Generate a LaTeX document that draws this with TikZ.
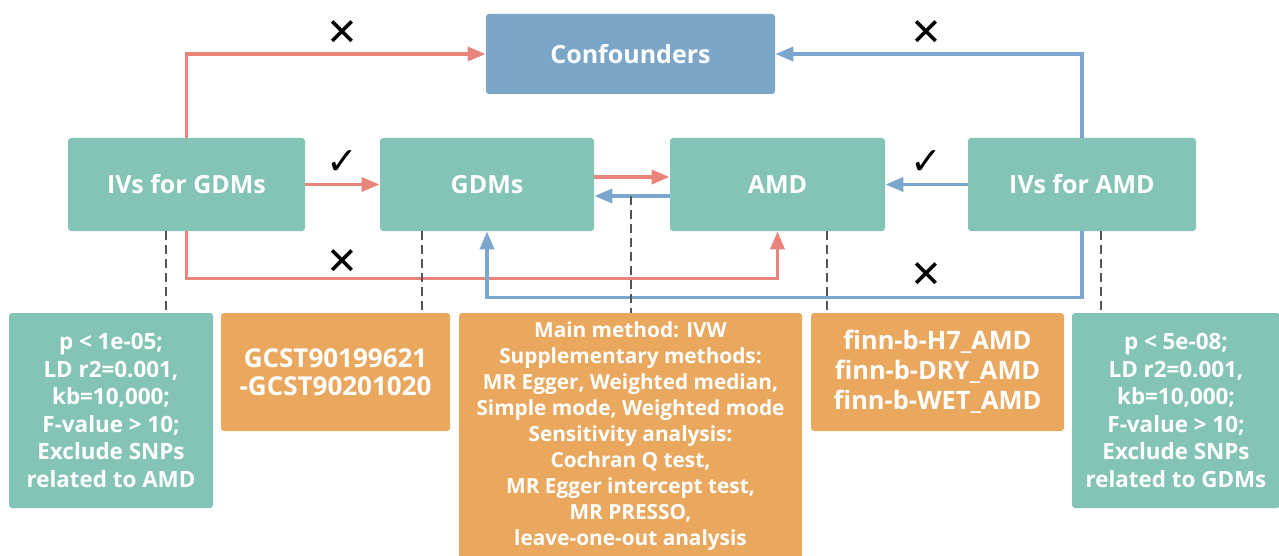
\documentclass[tikz,border=0pt]{standalone}
\usepackage{fontspec}
\setmainfont{Open Sans}
\newfontfamily\marksfont{DejaVu Sans}
\usetikzlibrary{arrows.meta,calc}

\definecolor{tealbox}{RGB}{132,196,183}
\definecolor{bluebox}{RGB}{123,166,200}
\definecolor{orangebox}{RGB}{233,168,94}
\definecolor{redline}{RGB}{232,132,122}
\definecolor{blueline}{RGB}{123,166,206}
\definecolor{dashgray}{RGB}{85,85,85}

\tikzset{
  box/.style={rounded corners=1.5pt, inner sep=0pt, align=center, text=white},
  mainbox/.style={box, fill=tealbox, minimum height=46.5pt, font=\fontsize{12.5}{14}\selectfont\bfseries},
  critbox/.style={box, fill=tealbox, minimum width=102pt, minimum height=97.5pt, font=\fontsize{11.2}{13.75}\selectfont\bfseries},
  databox/.style={box, fill=orangebox, minimum height=59pt},
  redarrow/.style={draw=redline, line width=1.75pt, -{Triangle[length=9pt,width=7pt]}},
  bluearrow/.style={draw=blueline, line width=1.75pt, -{Triangle[length=9pt,width=7pt]}},
  dline/.style={draw=dashgray, line width=1pt, dash pattern=on 4.5pt off 2.5pt},
  signnode/.style={font=\marksfont\fontsize{19}{19}\selectfont, inner sep=0pt}
}

\begin{document}
\begin{tikzpicture}[x=0.5pt,y=-0.5pt]
  \fill[white] (0,0) rectangle (1279,556);
  \useasboundingbox (0,0) rectangle (1279,556);

  \node (conf) at (630.5,54) [box, fill=bluebox, minimum width=144.5pt, minimum height=40pt,
    font=\fontsize{12.5}{14}\selectfont\bfseries] {Confounders};
  \node (ivg) at (186.5,184.5) [mainbox, minimum width=118.5pt] {IVs for GDMs};
  \node (gdm) at (487,184.5) [mainbox, minimum width=107pt] {GDMs};
  \node (amd) at (777.5,184.5) [mainbox, minimum width=107.5pt] {AMD};
  \node (iva) at (1082,184.5) [mainbox, minimum width=114pt] {IVs for AMD};

  \node (crit1) at (111,410.5) [critbox] {p < 1e-05;\\LD r2=0.001,\\kb=10,000;\\F-value > 10;\\Exclude SNPs\\related to AMD};
  \node (gwas) at (335.5,372) [databox, minimum width=114.5pt,
    font=\fontsize{13}{14}\selectfont\bfseries] {GCST90199621\\-GCST90201020};
  \node (meth) at (630.5,436.5) [box, fill=orangebox, minimum width=171.5pt, minimum height=123.5pt,
    font=\fontsize{10.4}{13}\selectfont\bfseries] {Main method: IVW\\Supplementary methods:\\MR Egger, Weighted median,\\Simple mode, Weighted mode\\Sensitivity analysis:\\Cochran Q test,\\MR Egger intercept test,\\MR PRESSO,\\leave-one-out analysis};
  \node (finn) at (937.5,372) [databox, minimum width=126.5pt,
    font=\fontsize{12.7}{15}\selectfont\bfseries] {finn-b-H7\_AMD\\finn-b-DRY\_AMD\\finn-b-WET\_AMD};
  \node (crit2) at (1176,410.5) [critbox, minimum width=104pt] {p < 5e-08;\\LD r2=0.001,\\kb=10,000;\\F-value > 10;\\Exclude SNPs\\related to GDMs};

  \draw [redarrow] (ivg.north) |- (conf.west);
  \draw [bluearrow] (iva.north) |- (conf.east);
  \draw [redarrow] (ivg.east) -- (gdm.west);
  \draw [bluearrow] (iva.west) -- (amd.east);
  \draw [redarrow] ([yshift=3.75pt]gdm.east) -- ([yshift=3.75pt]amd.west);
  \draw [bluearrow] ([yshift=-5.75pt]amd.west) -- ([yshift=-5.75pt]gdm.east);
  \draw [redarrow] (ivg.south) -- ++(0,47) -| (amd.south);
  \draw [bluearrow] (iva.south) -- ++(0,66) -| (gdm.south);

  \node (x1) at ($(ivg.east)!0.5!(gdm.west)+(0,-151)$) [signnode] {✕};
  \node (c1) at ($(ivg.east)!0.5!(gdm.west)+(0,-22)$) [signnode] {✓};
  \node (x2) at ($(ivg.east)!0.5!(gdm.west)+(0,78)$) [signnode] {✕};
  \node (x3) at ($(amd.east)!0.5!(iva.west)+(0,-151)$) [signnode] {✕};
  \node (c2) at ($(amd.east)!0.5!(iva.west)+(0,-22)$) [signnode] {✓};
  \node (x4) at ($(amd.east)!0.5!(iva.west)+(0,91)$) [signnode] {✕};

  \draw [dline] ([xshift=-10.25pt]ivg.south) -- ([xshift=-10.25pt]ivg.south |- crit1.north);
  \draw [dline] ([xshift=-32.5pt]gdm.south) -- ([xshift=-32.5pt]gdm.south |- gwas.north);
  \draw [dline] ([yshift=-5.75pt]meth.north |- gdm.east) -- (meth.north);
  \draw [dline] ([xshift=24.75pt]amd.south) -- ([xshift=24.75pt]amd.south |- finn.north);
  \draw [dline] ([xshift=9.5pt]iva.south) -- ([xshift=9.5pt]iva.south |- crit2.north);
\end{tikzpicture}
\end{document}
